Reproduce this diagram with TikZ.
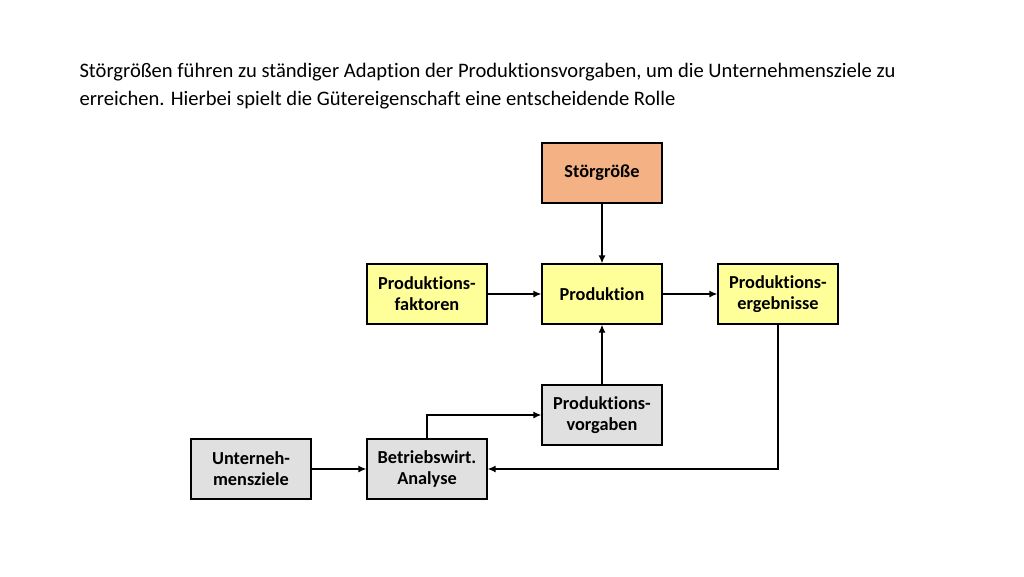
\documentclass[tikz,border=0pt]{standalone}
\usepackage{fontspec}
\setmainfont[Ligatures=NoCommon]{Carlito}
\usetikzlibrary{arrows.meta}
\definecolor{orng}{HTML}{F4B183}
\definecolor{yel}{HTML}{FFFF99}
\definecolor{gry}{HTML}{E0E0E0}
\begin{document}
\begin{tikzpicture}[x=1pt,y=-1pt,
  box/.style={draw,line width=1.3pt,minimum width=120pt,minimum height=60pt,align=center,font=\fontsize{18.3}{21}\selectfont\bfseries,inner sep=1pt},
  arr/.style={line width=1.3pt,-{Latex[length=8pt,width=7pt]}}]
\useasboundingbox (0,0) rectangle (1024,576);
\node[anchor=west,align=left,font=\fontsize{20.6}{28.5}\selectfont] (title) at (76,86) {Störgrößen führen zu ständiger Adaption der Produktionsvorgaben, um die Unternehmensziele zu\\erreichen. Hierbei spielt die Gütereigenschaft eine entscheidende Rolle};
\node[box,fill=orng] (stoer) at (602,173) {Störgröße};
\node[box,fill=yel] (prod) at (602,294) {Produktion};
\node[box,fill=yel] (fakt) at (427,294) {Produktions-\\faktoren};
\node[box,fill=yel] (erg) at (778,294) {Produktions-\\ergebnisse};
\node[box,fill=gry] (vorg) at (602,415) {Produktions-\\vorgaben};
\node[box,fill=gry] (ziel) at (251,469) {Unterneh-\\mensziele};
\node[box,fill=gry] (bwa) at (427,469) {Betriebswirt.\\Analyse};
\draw[arr] (stoer) -- (prod);
\draw[arr] (fakt) -- (prod);
\draw[arr] (prod) -- (erg);
\draw[arr] (vorg) -- (prod);
\draw[arr] (ziel) -- (bwa);
\draw[arr] (erg.south) |- (bwa.east);
\draw[arr] (bwa.north) |- (vorg.west);
\end{tikzpicture}
\end{document}
